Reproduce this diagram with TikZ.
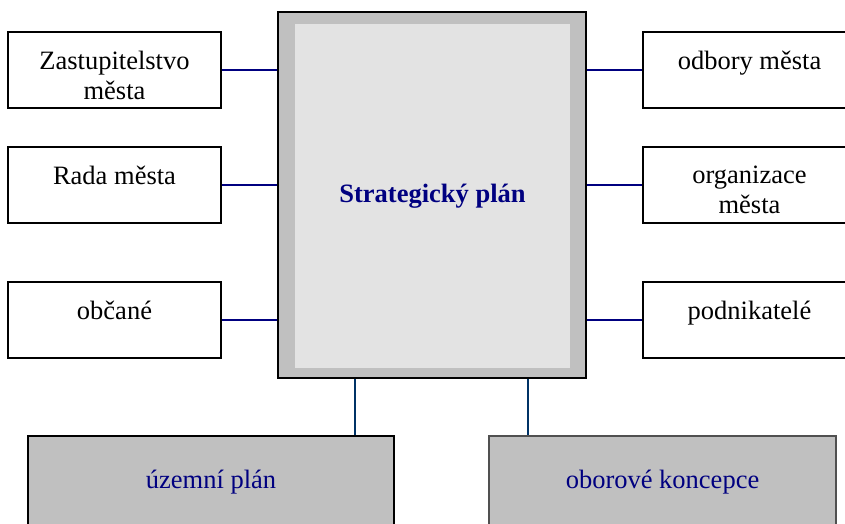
\documentclass[tikz,border=0pt]{standalone}
\usepackage{fontspec}
\setmainfont{Liberation Serif}
\usetikzlibrary{positioning}
\definecolor{navy}{RGB}{0,0,128}
\definecolor{linkblue}{RGB}{0,0,128}
\definecolor{linkteal}{RGB}{0,51,102}
\definecolor{boxgray}{RGB}{192,192,192}
\definecolor{innergray}{RGB}{227,227,227}
\definecolor{edgegray}{RGB}{80,80,80}

\begin{document}
\begin{tikzpicture}[x=1pt,y=1pt,
   box/.style={draw,line width=1.5pt,minimum width=213pt,minimum height=76pt,inner sep=0pt},
   lowbox/.style={draw,line width=1.5pt,fill=boxgray,minimum height=110pt,inner sep=0pt,anchor=north},
   txt/.style={font=\fontsize{26.5}{30}\selectfont,align=center,inner sep=0pt},
   link/.style={draw=linkblue,line width=1.3pt},
   downlink/.style={draw=linkteal,line width=1.3pt}]
   \useasboundingbox (0,0) rectangle (845,-524);
   % the plan in the middle
   \node[draw,line width=1.5pt,fill=boxgray,minimum width=308pt,minimum height=366pt,inner sep=0pt] (plan) at (432,-195) {};
   \node[fill=innergray,minimum width=275pt,minimum height=344pt,inner sep=0pt] (planin) at (432.5,-196) {};
   \node[txt,text=navy,font=\fontsize{26.5}{30}\selectfont\bfseries] (plantxt) at (planin) {Strategický plán};
   % left side
   \node[box] (zast) at (114.5,-70) {};
   \node[box] (rada) at (114.5,-185) {};
   \node[box] (obcane) at (114.5,-320) {};
   \node[txt,below=20pt of zast.north] {Zastupitelstvo\\města};
   \node[txt,below=20pt of rada.north] {Rada města};
   \node[txt,below=20pt of obcane.north] {občané};
   % right side
   \node[box] (odbory) at (749.5,-70) {};
   \node[box] (organizace) at (749.5,-185) {};
   \node[box] (podnik) at (749.5,-320) {};
   \node[txt,below=20pt of odbory.north] {odbory města};
   \node[txt,below=20pt of organizace.north] {organizace\\města};
   \node[txt,below=20pt of podnik.north] {podnikatelé};
   % bottom
   \node[lowbox,minimum width=366pt] (uzemni) at (211,-435) {};
   \node[lowbox,minimum width=347pt,draw=edgegray] (oborove) at (662.5,-435) {};
   \node[txt,text=navy,below=35pt of uzemni.north] {územní plán};
   \node[txt,text=navy,below=35pt of oborove.north] {oborové koncepce};
   % connectors
   \draw[link] (zast.east) -- (zast.east -| plan.west);
   \draw[link] (rada.east) -- (rada.east -| plan.west);
   \draw[link] (obcane.east) -- (obcane.east -| plan.west);
   \draw[link] (odbory.west) -- (odbory.west -| plan.east);
   \draw[link] (organizace.west) -- (organizace.west -| plan.east);
   \draw[link] (podnik.west) -- (podnik.west -| plan.east);
   \coordinate (c1) at ([xshift=-77pt]plan.south);
   \coordinate (c2) at ([xshift=96pt]plan.south);
   \draw[downlink] (c1) -- (c1 |- uzemni.north);
   \draw[downlink] (c2) -- (c2 |- oborove.north);

\end{tikzpicture}
\end{document}
